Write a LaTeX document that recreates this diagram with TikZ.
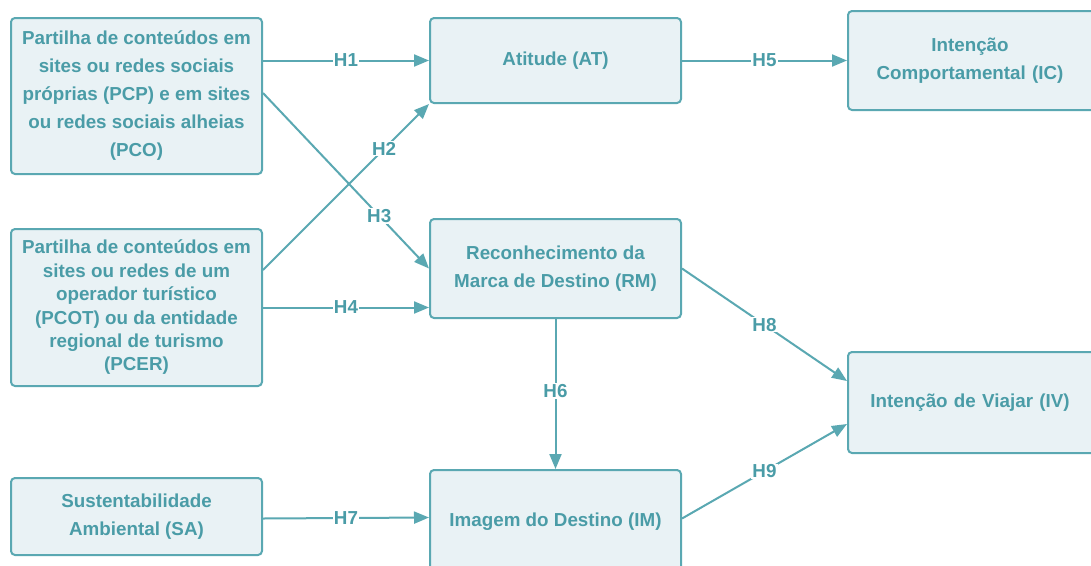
\documentclass[tikz,border=0pt]{standalone}
\usepackage{fontspec}
\setmainfont{Liberation Sans}
\usetikzlibrary{arrows.meta}
\definecolor{tealb}{HTML}{5AA8B2}
\definecolor{tealf}{HTML}{E9F2F5}
\definecolor{tealt}{HTML}{4A9CA7}
\tikzset{
  box/.style={draw=tealb, fill=tealf, line width=2pt, rounded corners=4pt,
    align=center, text=tealt, font=\bfseries\fontsize{18.8}{28}\selectfont, inner sep=0pt},
  arr/.style={draw=tealb, line width=2pt, -{Triangle[length=15pt,width=12pt]}},
  lbl/.style={fill=white, text=tealt, font=\bfseries\fontsize{18.8}{20}\selectfont, inner sep=1pt}
}
\begin{document}
\begin{tikzpicture}[x=1pt,y=-1pt]
\clip (0,0) rectangle (1091,565);
\fill[white] (0,0) rectangle (1091,565);
\node[box, minimum width=251pt, minimum height=156pt] (pco) at (136.5,96)
  {Partilha de conteúdos em\\sites ou redes sociais\\próprias (PCP) e em sites\\ou redes sociais alheias\\(PCO)};
\node[box, minimum width=251pt, minimum height=157pt, font=\bfseries\fontsize{18.8}{23.4}\selectfont] (pcer) at (136.5,307.5)
  {Partilha de conteúdos em\\sites ou redes de um\\operador turístico\\(PCOT) ou da entidade\\regional de turismo\\(PCER)};
\node[box, minimum width=251pt, minimum height=77pt] (sa) at (136.5,516.5)
  {Sustentabilidade\\Ambiental (SA)};
\node[box, minimum width=251pt, minimum height=85pt] (at) at (555.5,60.5) {Atitude (AT)};
\node[box, minimum width=251pt, minimum height=99pt] (rm) at (555.5,268.5)
  {Reconhecimento da\\Marca de Destino (RM)};
\node[box, minimum width=251pt, minimum height=104pt] (im) at (555.5,522) {Imagem do Destino (IM)};
\node[box, minimum width=258pt, minimum height=99pt, text width=240pt] (ic) at (977,60.5)
  {\hspace*{-14pt}Intenção\\\hspace*{-14pt}Comportamental (IC)};
\node[box, minimum width=258pt, minimum height=101pt, text width=240pt] (iv) at (977,402.5)
  {\hspace*{-14pt}Intenção de Viajar (IV)};

\draw[arr] (pco.east |- at.west) -- node[lbl, pos=0.5] {H1} (at.west);
\draw[arr] ([yshift=37.5pt]pcer.east) -- node[lbl, pos=0.73] {H2} (at.south west);
\draw[arr] ([yshift=3pt]pco.east) -- node[lbl, pos=0.70] {H3} (rm.west);
\draw[arr] (pcer.east) -- node[lbl, pos=0.5] {H4} (pcer.east -| rm.west);
\draw[arr] (at.east) -- node[lbl, pos=0.5] {H5} (at.east -| ic.west);
\draw[arr] (rm.south) -- node[lbl, pos=0.48] {H6} (im.north);
\draw[arr] ([yshift=-2pt]sa.east) -- node[lbl, pos=0.5] {H7} ([yshift=-1pt]sa.east -| im.west);
\draw[arr] (rm.east) -- node[lbl, pos=0.5] {H8} ([yshift=21.5pt]iv.west);
\draw[arr] ([yshift=3.5pt]im.east) -- node[lbl, pos=0.5] {H9} ([yshift=-21.5pt]iv.west);
\end{tikzpicture}
\end{document}
